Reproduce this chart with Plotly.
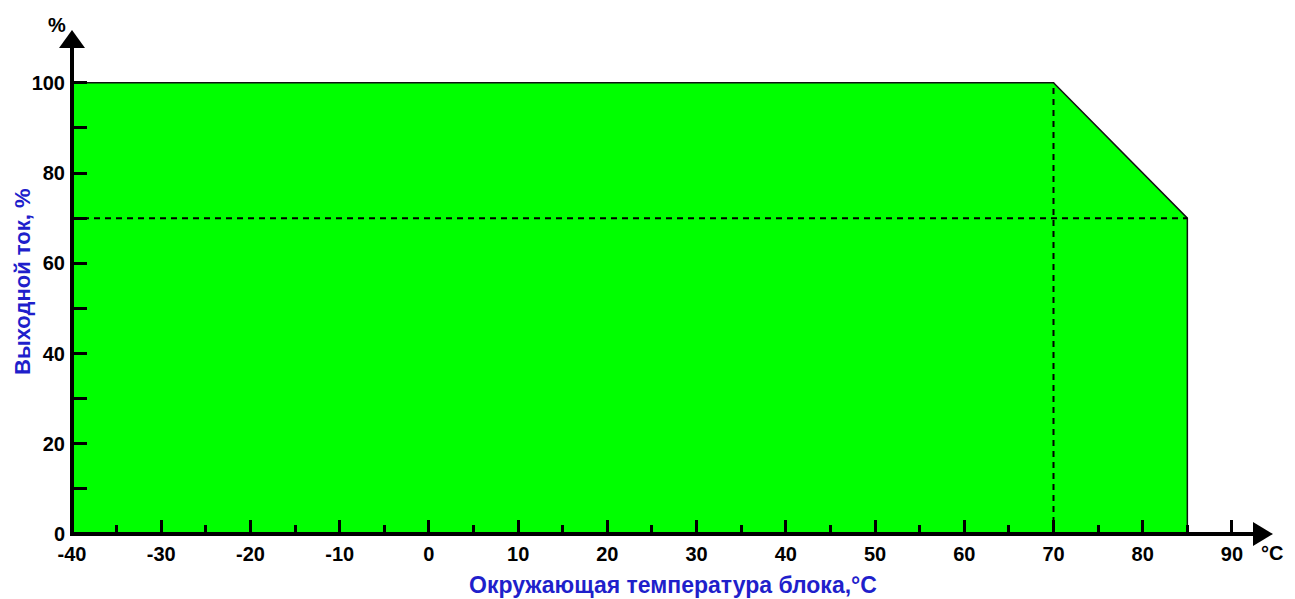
import plotly.graph_objects as go

# ---- data ----
temp_c = [-40, -40, 70, 85, 85]          # ambient temperature, °C
current_pct = [0, 100, 100, 70, 0]       # output current, %
knee_temp = 70
end_temp = 85
derated_pct = 70
full_pct = 100

x_major_ticks = [-40, -30, -20, -10, 0, 10, 20, 30, 40, 50, 60, 70, 80, 90]
x_minor_ticks = [-35, -25, -15, -5, 5, 15, 25, 35, 45, 55, 65, 75, 85]
y_major_ticks = [0, 20, 40, 60, 80, 100]
y_minor_ticks = [10, 30, 50, 70, 90]

x_title = "Окружающая температура блока,°C"
y_title = "Выходной ток, %"

# ---- styling constants ----
X_MIN, X_MAX = -40, 94.6
Y_MIN, Y_MAX = 0, 111.7
FONT = "Liberation Sans, Arial, sans-serif"
BLUE = "#1F1FCB"

fig = go.Figure()

fig.add_trace(go.Scatter(
    x=temp_c, y=current_pct, mode="lines", fill="toself",
    fillcolor="#00FF00", line=dict(color="#111111", width=1.5),
    hoverinfo="skip", showlegend=False,
))

# dashed reference lines
fig.add_trace(go.Scatter(
    x=[X_MIN, end_temp], y=[derated_pct, derated_pct], mode="lines",
    line=dict(color="black", width=2, dash="6px,5px"), showlegend=False, hoverinfo="skip",
))
fig.add_trace(go.Scatter(
    x=[knee_temp, knee_temp], y=[0, full_pct], mode="lines",
    line=dict(color="black", width=2, dash="6px,5px"), showlegend=False, hoverinfo="skip",
))

tickfont = dict(family=FONT, size=20, color="black", weight="bold")

fig.update_xaxes(
    range=[X_MIN, X_MAX], showgrid=False, zeroline=False, showline=False,
    tickmode="array", tickvals=x_major_ticks, ticktext=[str(v) for v in x_major_ticks],
    ticks="inside", ticklen=14, tickwidth=3, tickcolor="black",
    minor=dict(tickmode="array", tickvals=x_minor_ticks, ticks="inside", ticklen=9,
               tickwidth=3, tickcolor="black", showgrid=False),
    tickfont=tickfont, ticklabelstandoff=6,
)
fig.update_yaxes(
    range=[Y_MIN, Y_MAX], showgrid=False, zeroline=False, showline=False,
    tickmode="array", tickvals=y_major_ticks, ticktext=[str(v) for v in y_major_ticks],
    ticks="inside", ticklen=15, tickwidth=3, tickcolor="black",
    minor=dict(tickmode="array", tickvals=y_minor_ticks, ticks="inside", ticklen=15,
               tickwidth=3, tickcolor="black", showgrid=False),
    tickfont=tickfont, ticklabelstandoff=6,
)

# axis lines with arrowheads (paper-referenced so they are not clipped)
fig.add_shape(type="line", xref="paper", yref="paper", x0=0, x1=0.99, y0=0, y1=0,
              line=dict(color="black", width=4), layer="above")
fig.add_shape(type="line", xref="paper", yref="paper", x0=0, x1=0, y0=-0.004, y1=0.97,
              line=dict(color="black", width=4), layer="above")
fig.add_shape(type="path", xref="paper", yref="paper", xsizemode="pixel", ysizemode="pixel",
              xanchor=1, yanchor=0, path="M -20,-12 L -20,12 L 0,0 Z",
              fillcolor="black", line=dict(width=0), layer="above")
fig.add_shape(type="path", xref="paper", yref="paper", xsizemode="pixel", ysizemode="pixel",
              xanchor=0, yanchor=1, path="M -13,-18 L 13,-18 L 0,0 Z",
              fillcolor="black", line=dict(width=0), layer="above")

# unit labels and axis titles
fig.add_annotation(x=X_MIN, y=Y_MAX, xref="x", yref="y", text="%", showarrow=False,
                   xshift=-15, yshift=5, font=dict(family=FONT, size=20, color="black", weight="bold"))
fig.add_annotation(x=X_MAX, y=0, xref="x", yref="y", text="°C", showarrow=False,
                   xanchor="right", xshift=12, yshift=-19,
                   font=dict(family=FONT, size=20, color="black", weight="bold"))
fig.add_annotation(x=0, y=0.5, xref="paper", yref="paper", text=y_title, showarrow=False,
                   textangle=-90, xanchor="center", yanchor="middle", xshift=-50,
                   font=dict(family=FONT, size=22, color=BLUE, weight="bold"))
fig.add_annotation(x=0.5, y=0, xref="paper", yref="paper", text=x_title, showarrow=False,
                   xanchor="center", yanchor="middle", yshift=-51,
                   font=dict(family=FONT, size=23, color=BLUE, weight="bold"))

fig.update_layout(
    width=1287, height=591,
    margin=dict(l=64, r=22, t=22, b=65),
    plot_bgcolor="white", paper_bgcolor="white",
    showlegend=False,
)

fig.write_html("out.html")
